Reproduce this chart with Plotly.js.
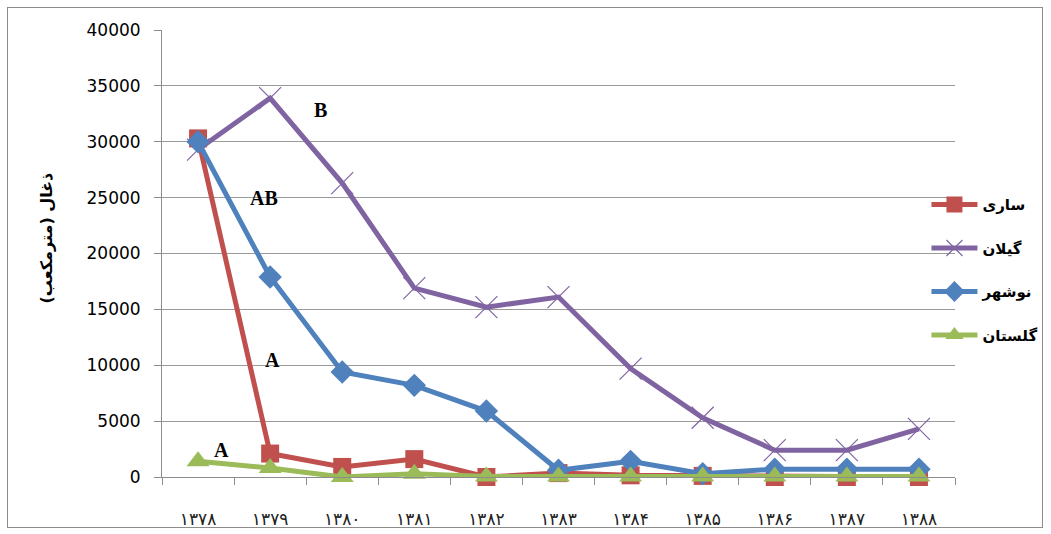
<!DOCTYPE html>
<html><head><meta charset="utf-8">
<script src="https://cdn.plot.ly/plotly-3.0.1.min.js"></script>
<style>
html,body{margin:0;padding:0;background:#fff;}
#wrap{position:relative;width:1051px;height:534px;}
#chart{width:1051px;height:534px;}
#frame{position:absolute;left:7px;top:7px;width:1034px;height:519px;border:1.5px solid #8c8c8c;pointer-events:none;}
</style></head>
<body><div id="wrap"><div id="chart"></div><div id="frame"></div></div>
<script>
const years = ['۱۳۷۸','۱۳۷۹','۱۳۸۰','۱۳۸۱','۱۳۸۲','۱۳۸۳','۱۳۸۴','۱۳۸۵','۱۳۸۶','۱۳۸۷','۱۳۸۸'];
const sari     = [30300, 2100, 900, 1600, 0, 350, 150, 100, 0, 0, 0];
const gilan    = [29300, 33900, 26300, 16900, 15200, 16100, 9700, 5300, 2400, 2400, 4300];
const nowshahr = [30000, 17900, 9400, 8200, 5900, 600, 1400, 300, 700, 700, 700];
const golestan = [1400, 800, 0, 300, 50, 50, 50, 50, 50, 50, 50];
const seriesNames = ['ساری','گیلان','نوشهر','گلستان'];
const yTicks = [0,5000,10000,15000,20000,25000,30000,35000,40000];
const yTitle = 'ذغال (مترمکعب)';

const colors = ['#C0504D','#8064A2','#4F81BD','#9BBB59'];
const data = [sari, gilan, nowshahr, golestan];
const markers = [
  {symbol:'square', size:18},
  {symbol:'x-thin-open', size:22, line:{width:1.2, color:'#a08cc4'}},
  {symbol:'diamond', size:18},
  {symbol:'triangle-up', size:20}
];
const traces = data.map((vals,i)=>({
  x: years, y: vals, name: seriesNames[i], type:'scatter', mode:'lines+markers',
  legendgroup: 'g'+i, cliponaxis:false,
  line:{color:colors[i], width:5},
  marker: Object.assign({color:colors[i]}, markers[i])
}));

const annFont = {family:'Liberation Serif, Times New Roman', size:20, color:'#000', weight:'bold'};
const layout = {
  width:1051, height:534,
  margin:{l:162, r:96, t:30, b:57, autoexpand:false},
  paper_bgcolor:'rgba(0,0,0,0)', plot_bgcolor:'#fff',
  showlegend:true,
  legend:{x:0.964, y:0.646, xanchor:'left', yanchor:'top', bgcolor:'rgba(0,0,0,0)', itemwidth:46,
          tracegroupgap:21, font:{family:'DejaVu Sans', size:15, color:'#000', weight:'bold'}},
  xaxis:{type:'category', range:[-0.5,10.5], showgrid:false, showline:true, linecolor:'#8c8c8c', linewidth:1,
         ticks:'outside', tickson:'boundaries', ticklen:7, tickcolor:'#8c8c8c', ticklabelstandoff:27,
         tickfont:{family:'DejaVu Sans', size:17, color:'#222'}, fixedrange:true},
  yaxis:{range:[0,40000], tickvals:yTicks, ticktext:yTicks.map(String), showgrid:true, gridcolor:'#9a9a9a', gridwidth:1,
         zeroline:false, showline:true, linecolor:'#8c8c8c', linewidth:1, ticks:'outside', ticklen:7, tickcolor:'#8c8c8c',
         ticklabelstandoff:10,
         tickfont:{family:'DejaVu Sans', size:17, color:'#000'}},
  annotations:[
    {x:'۱۳۷۹', y:33900, xref:'x', yref:'y', text:'B', showarrow:false, xshift:50, yshift:-12, font:annFont},
    {x:'۱۳۷۹', y:25000, xref:'x', yref:'y', text:'AB', showarrow:false, xshift:-6, font:annFont},
    {x:'۱۳۷۹', y:10500, xref:'x', yref:'y', text:'A', showarrow:false, xshift:2, font:annFont},
    {x:'۱۳۷۸', y:2400, xref:'x', yref:'y', text:'A', showarrow:false, xshift:23, font:annFont},
    {xref:'paper', yref:'paper', x:-0.16, y:0.535, text:yTitle, textangle:-90, showarrow:false,
     font:{family:'DejaVu Sans', size:16, color:'#000', weight:'bold'}}
  ]
};
Plotly.newPlot('chart', traces, layout, {displayModeBar:false, staticPlot:true});
</script></body></html>
